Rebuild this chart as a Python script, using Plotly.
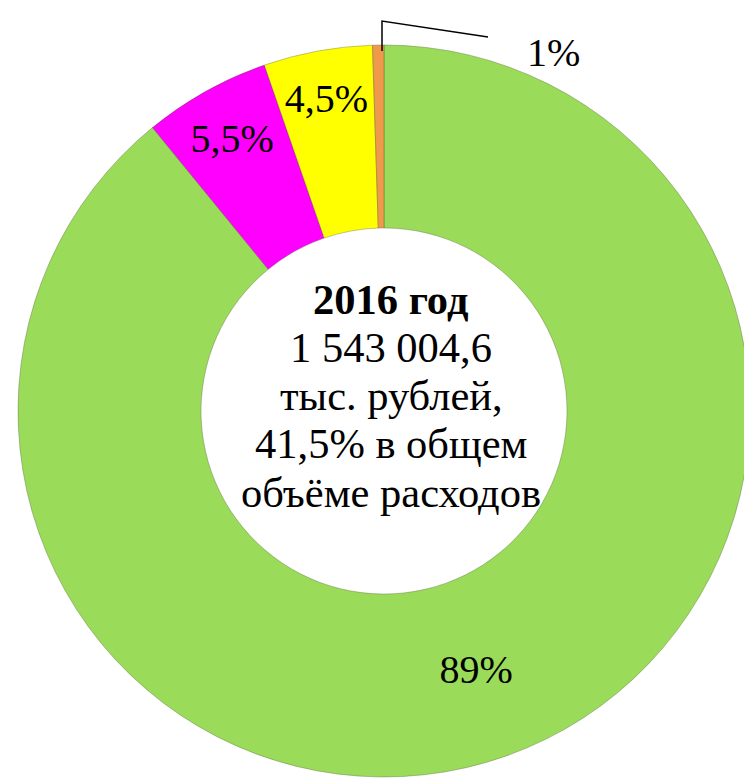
import plotly.graph_objects as go

# Data
categories = ["Категория 1", "Категория 2", "Категория 3", "Категория 4"]
shares = [89.1, 5.6, 4.8, 0.5]          # slice sizes as drawn
share_labels = ["89%", "5,5%", "4,5%", "1%"]
colors = ["#9ADB5A", "#FF00FF", "#FFFF00", "#EE9A4A"]
center_lines = ["<b>2016 год</b>", "1 543 004,6", "тыс. рублей,", "41,5% в общем", "объёме расходов"]

W, H = 752, 781
FONT = "Times New Roman, Liberation Serif, serif"
FS = 42.5

fig = go.Figure()
fig.add_trace(go.Pie(
    labels=categories,
    values=shares,
    text=[share_labels[0], share_labels[1], share_labels[2], ""],
    textinfo="text",
    textposition=["inside", "inside", "inside", "none"],
    insidetextorientation="horizontal",
    textfont=dict(family=FONT, size=40, color="black"),
    hole=0.5,
    sort=False,
    direction="clockwise",
    rotation=0,
    marker=dict(colors=colors, line=dict(color="rgba(80,90,50,0.35)", width=1)),
    domain=dict(x=[10 / W, 742 / W], y=[12 / H, 744 / H]),
    showlegend=False,
    hoverinfo="label+percent",
))

# centre text, one annotation per line for tighter leading
line_step = 48.3
first_mid = 291
for i, line in enumerate(center_lines):
    fig.add_annotation(
        x=383 / W, y=1 - (first_mid + i * line_step) / H, xref="paper", yref="paper",
        text=line, showarrow=False,
        font=dict(family=FONT, size=FS, color="black"),
        align="center", xanchor="center", yanchor="middle",
    )

# outside label for the smallest slice with a leader line
fig.add_annotation(
    x=545 / W, y=1 - 44 / H, xref="paper", yref="paper",
    text=share_labels[3], showarrow=False,
    font=dict(family=FONT, size=40, color="black"),
    xanchor="center", yanchor="middle",
)
fig.add_shape(
    type="path", xref="paper", yref="paper",
    path=f"M {374/W} {1-43/H} L {374/W} {1-13/H} L {480/W} {1-29/H}",
    line=dict(color="black", width=1.5),
)

fig.update_layout(
    width=W, height=H,
    margin=dict(l=0, r=0, t=0, b=0),
    paper_bgcolor="white", plot_bgcolor="white",
    uniformtext=dict(minsize=40, mode="show"),
    font=dict(family=FONT),
)

fig.write_html("out.html")
